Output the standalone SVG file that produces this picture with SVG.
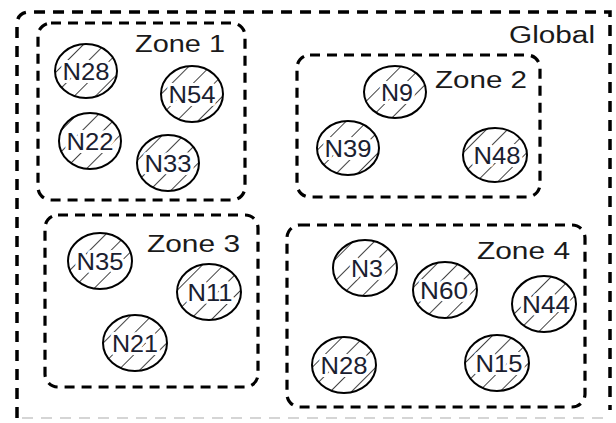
<svg xmlns="http://www.w3.org/2000/svg" width="616" height="423" viewBox="0 0 616 423">
<defs>
<pattern id="hatch" patternUnits="userSpaceOnUse" width="15" height="15" patternTransform="rotate(45)">
<line x1="0" y1="0" x2="0" y2="15" stroke="#111" stroke-width="1.6"/>
</pattern>
</defs>
<style>
.frame{fill:none;stroke:#000;stroke-width:3.5;stroke-dasharray:11 8}
.zone{fill:none;stroke:#000;stroke-width:3.2;stroke-dasharray:10 7}
.node ellipse{fill:url(#hatch);stroke:#000;stroke-width:2}
.lbl{font-family:"Liberation Sans",Arial,sans-serif;font-size:23px;fill:#1a1a1a}
.nt{font-family:"Liberation Sans",Arial,sans-serif;font-size:24px;fill:#1a2030;text-anchor:middle;stroke:#fff;stroke-width:6;paint-order:stroke;stroke-linejoin:round}
</style>
<rect width="616" height="423" fill="#fff"/>
<g id="global">
<path class="frame" d="M17,418 V25 Q17,12 30,12 H610 V410"/>
<path d="M22,418 H605" fill="none" stroke="#c8c8c8" stroke-width="1.5" stroke-dasharray="11 8"/>
<text class="lbl" x="509" y="43" textLength="86" lengthAdjust="spacingAndGlyphs">Global</text>
</g>
<g id="zone1">
<rect class="zone" x="38" y="23" width="207" height="177" rx="13"/>
<text class="lbl" x="135" y="52" textLength="90" lengthAdjust="spacingAndGlyphs">Zone 1</text>
</g>
<g id="zone2">
<rect class="zone" x="297" y="55" width="243" height="142" rx="13"/>
<text class="lbl" x="435" y="88" textLength="92" lengthAdjust="spacingAndGlyphs">Zone 2</text>
</g>
<g id="zone3">
<rect class="zone" x="45" y="215" width="213" height="172" rx="13"/>
<text class="lbl" x="147" y="252" textLength="93" lengthAdjust="spacingAndGlyphs">Zone 3</text>
</g>
<g id="zone4">
<rect class="zone" x="287" y="225" width="298" height="182" rx="13"/>
<text class="lbl" x="477" y="259" textLength="93" lengthAdjust="spacingAndGlyphs">Zone 4</text>
</g>
<g id="z1-N28" class="node"><ellipse cx="86" cy="71" rx="31" ry="27"/><text class="nt" x="86" y="80" textLength="47" lengthAdjust="spacingAndGlyphs">N28</text></g>
<g id="z1-N54" class="node"><ellipse cx="192" cy="94" rx="31" ry="28"/><text class="nt" x="192" y="103" textLength="47" lengthAdjust="spacingAndGlyphs">N54</text></g>
<g id="z1-N22" class="node"><ellipse cx="90" cy="141" rx="31" ry="28"/><text class="nt" x="90" y="150" textLength="47" lengthAdjust="spacingAndGlyphs">N22</text></g>
<g id="z1-N33" class="node"><ellipse cx="168" cy="163" rx="31" ry="28"/><text class="nt" x="168" y="172" textLength="47" lengthAdjust="spacingAndGlyphs">N33</text></g>
<g id="z2-N9" class="node"><ellipse cx="395" cy="92" rx="31" ry="26"/><text class="nt" x="397" y="101" textLength="32" lengthAdjust="spacingAndGlyphs">N9</text></g>
<g id="z2-N39" class="node"><ellipse cx="348" cy="148" rx="31" ry="27"/><text class="nt" x="348" y="157" textLength="47" lengthAdjust="spacingAndGlyphs">N39</text></g>
<g id="z2-N48" class="node"><ellipse cx="495" cy="155" rx="32" ry="27"/><text class="nt" x="497" y="164" textLength="47" lengthAdjust="spacingAndGlyphs">N48</text></g>
<g id="z3-N35" class="node"><ellipse cx="100" cy="261" rx="32" ry="28"/><text class="nt" x="100" y="270" textLength="47" lengthAdjust="spacingAndGlyphs">N35</text></g>
<g id="z3-N11" class="node"><ellipse cx="209" cy="292" rx="32" ry="28"/><text class="nt" x="210" y="301" textLength="45" lengthAdjust="spacingAndGlyphs">N11</text></g>
<g id="z3-N21" class="node"><ellipse cx="135" cy="343" rx="32" ry="28"/><text class="nt" x="135" y="352" textLength="46" lengthAdjust="spacingAndGlyphs">N21</text></g>
<g id="z4-N3" class="node"><ellipse cx="365" cy="268" rx="32" ry="28"/><text class="nt" x="367" y="277" textLength="32" lengthAdjust="spacingAndGlyphs">N3</text></g>
<g id="z4-N60" class="node"><ellipse cx="445" cy="290" rx="32" ry="28"/><text class="nt" x="444" y="299" textLength="48" lengthAdjust="spacingAndGlyphs">N60</text></g>
<g id="z4-N44" class="node"><ellipse cx="544" cy="304" rx="32" ry="28"/><text class="nt" x="546" y="313" textLength="48" lengthAdjust="spacingAndGlyphs">N44</text></g>
<g id="z4-N28" class="node"><ellipse cx="344" cy="365" rx="32" ry="28"/><text class="nt" x="344" y="374" textLength="47" lengthAdjust="spacingAndGlyphs">N28</text></g>
<g id="z4-N15" class="node"><ellipse cx="497" cy="363" rx="32" ry="28"/><text class="nt" x="499" y="372" textLength="47" lengthAdjust="spacingAndGlyphs">N15</text></g>
<g id="connectors"></g>
</svg>
